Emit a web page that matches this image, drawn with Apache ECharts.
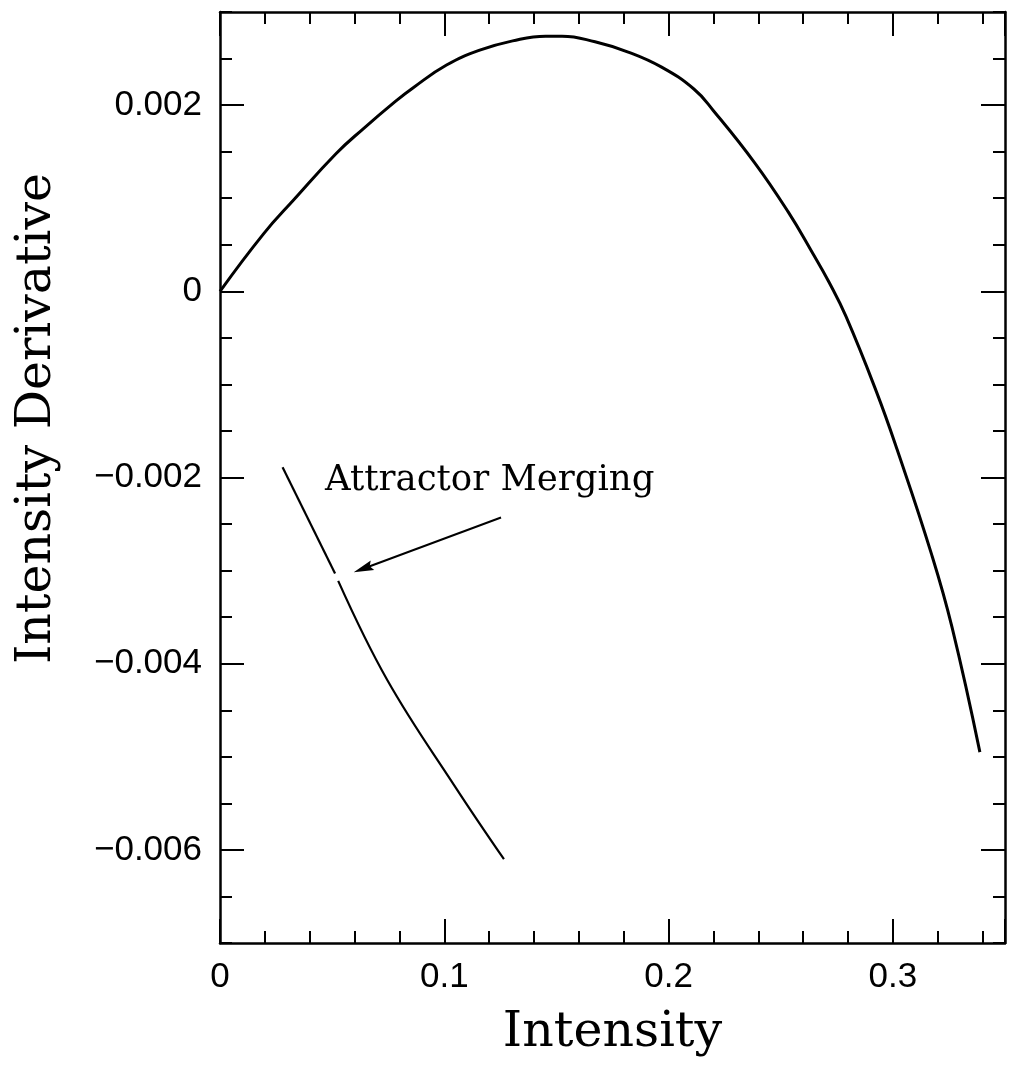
<!DOCTYPE html>
<html>
<head>
<meta charset="utf-8">
<script src="https://cdn.jsdelivr.net/npm/echarts@6/dist/echarts.min.js"></script>
<style>
  html, body { margin: 0; padding: 0; background: #ffffff; }
  #chart { width: 1010px; height: 1065px; }
</style>
</head>
<body>
<div id="chart"></div>
<script>
// Labelled tick values on each axis
const intensityTicks = [0, 0.1, 0.2, 0.3];
const derivativeTicks = [-0.006, -0.004, -0.002, 0, 0.002];

// Main branch: intensity derivative vs intensity
const mainBranch = [
  [0.000, 0.00000], [0.0195, 0.00062], [0.0328, 0.00098], [0.0518, 0.00148],
  [0.0636, 0.00174], [0.0782, 0.00204], [0.0863, 0.00219], [0.1010, 0.00243],
  [0.1158, 0.00259], [0.1305, 0.00269], [0.1452, 0.00274], [0.1525, 0.00274],
  [0.1672, 0.00268], [0.1820, 0.00257], [0.1967, 0.00241], [0.2114, 0.00217],
  [0.2200, 0.00194], [0.2384, 0.00138], [0.2534, 0.00085], [0.2640, 0.00042],
  [0.2715, 0.00010], [0.2791, -0.00027], [0.2927, -0.00108], [0.3019, -0.00170],
  [0.3172, -0.00282], [0.3264, -0.00361], [0.3388, -0.00495]
];

// Branch near the attractor merging point (broken where the arrow points)
const mergeBranchUpper = [
  [0.0279, -0.00189], [0.0513, -0.00303]
];
const mergeBranchLower = [
  [0.0527, -0.00311], [0.0747, -0.00418], [0.1048, -0.00532], [0.1266, -0.00610]
];

// Annotation
const noteText = 'Attractor Merging';
const noteAnchor = [0.0468, -0.00204];
const arrowTail = [0.1253, -0.00243];
const arrowHead = [0.0638, -0.00298];

const INK = '#000000';
const tickFont = { fontFamily: 'Liberation Sans', fontSize: 35, color: INK };
const titleFont = { fontFamily: 'DejaVu Serif', fontSize: 49, color: INK };

function fmtDerivative(v) {
  if (Math.abs(v) < 1e-12) return '0';
  return (v < 0 ? '\u2212' : '') + Math.abs(v).toFixed(3);
}
function fmtIntensity(v) {
  if (Math.abs(v) < 1e-12) return '0';
  return String(Math.round(v * 10) / 10);
}

const frameLine = { show: true, onZero: false, lineStyle: { color: INK, width: 2.5 } };
const tickStyle = { color: INK, width: 2 };

function intensityAxis(pos, withLabels) {
  return {
    type: 'value', position: pos, min: 0, max: 0.35, interval: 0.1,
    axisLine: frameLine,
    axisTick: { show: true, inside: true, length: 24, lineStyle: tickStyle },
    minorTick: { show: true, splitNumber: 5, length: 12, lineStyle: tickStyle },
    splitLine: { show: false }, minorSplitLine: { show: false },
    axisLabel: withLabels ? Object.assign({
      show: true, margin: 17, customValues: intensityTicks, formatter: fmtIntensity
    }, tickFont) : { show: false },
    name: withLabels ? 'Intensity' : '',
    nameLocation: 'middle', nameGap: 66,
    nameTextStyle: titleFont
  };
}
function derivativeMajorAxis(pos, withLabels) {
  return {
    type: 'value', position: pos, min: -0.007, max: 0.003, interval: 0.0005,
    axisLine: frameLine,
    axisTick: { show: true, inside: true, length: 24, customValues: derivativeTicks, lineStyle: tickStyle },
    splitLine: { show: false },
    axisLabel: withLabels ? Object.assign({
      show: true, margin: 18, customValues: derivativeTicks, formatter: fmtDerivative
    }, tickFont) : { show: false },
    name: withLabels ? 'Intensity Derivative' : '',
    nameLocation: 'middle', nameGap: 158, nameRotate: 90,
    nameTextStyle: Object.assign({ padding: [0, 0, 0, 118] }, titleFont)
  };
}
function derivativeMinorAxis(pos) {
  return {
    type: 'value', position: pos, min: -0.007, max: 0.003, interval: 0.0005,
    axisLine: { show: false, onZero: false },
    axisTick: { show: true, inside: true, length: 12, lineStyle: tickStyle },
    splitLine: { show: false },
    axisLabel: { show: false }
  };
}

const curveBase = {
  type: 'line', xAxisIndex: 0, yAxisIndex: 0, showSymbol: false,
  silent: true, animation: false
};

const chart = echarts.init(document.getElementById('chart'), null, { renderer: 'canvas' });
chart.setOption({
  backgroundColor: '#ffffff',
  animation: false,
  grid: { left: 220, top: 12, width: 785, height: 931, containLabel: false },
  xAxis: [intensityAxis('bottom', true), intensityAxis('top', false)],
  yAxis: [
    derivativeMajorAxis('left', true), derivativeMinorAxis('left'),
    derivativeMajorAxis('right', false), derivativeMinorAxis('right')
  ],
  series: [
    Object.assign({}, curveBase, {
      data: mainBranch, smooth: 0.45,
      lineStyle: { color: INK, width: 3 }
    }),
    Object.assign({}, curveBase, {
      data: mergeBranchUpper,
      lineStyle: { color: INK, width: 2.2 }
    }),
    Object.assign({}, curveBase, {
      data: mergeBranchLower, smooth: 0.4,
      lineStyle: { color: INK, width: 2.2 },
      markLine: {
        silent: true, animation: false,
        symbol: ['none', 'none'],
        lineStyle: { color: INK, width: 2, type: 'solid' },
        label: { show: false },
        data: [[
          { coord: arrowTail, symbol: 'none' },
          { coord: arrowHead, symbol: 'path://M5 0 L10 20 L5 17 L0 20 Z', symbolSize: [10, 20] }
        ]]
      },
      markPoint: {
        silent: true, animation: false,
        symbol: 'circle', symbolSize: 0,
        data: [{ name: noteText, coord: noteAnchor }],
        label: {
          show: true, position: 'right', distance: 0, formatter: '{b}',
          fontFamily: 'DejaVu Serif', fontSize: 35.5, color: INK
        }
      }
    })
  ]
});
</script>
</body>
</html>
